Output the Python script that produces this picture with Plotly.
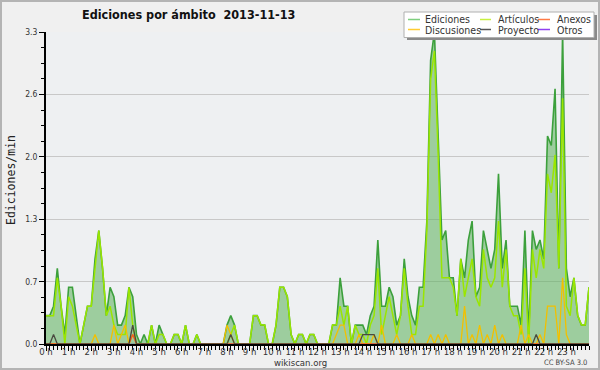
import plotly.graph_objects as go

# ---- data (edits per minute, 10-minute bins, 2013-11-13) ----
minutes = list(range(0, 1441, 10))

ediciones = [
    0.3, 0.3, 0.4, 0.8, 0.4, 0.1, 0.6, 0.6, 0.3, 0.0,
    0.2, 0.4, 0.4, 0.9, 1.2, 0.8, 0.3, 0.6, 0.5, 0.2,
    0.2, 0.3, 0.6, 0.5, 0.1, 0.0, 0.1, 0.0, 0.2, 0.0,
    0.2, 0.1, 0.0, 0.0, 0.1, 0.1, 0.0, 0.2, 0.0, 0.0,
    0.1, 0.0, 0.0, 0.0, 0.0, 0.0, 0.0, 0.0, 0.2, 0.3,
    0.2, 0.0, 0.0, 0.0, 0.0, 0.3, 0.3, 0.2, 0.2, 0.0,
    0.0, 0.2, 0.6, 0.6, 0.5, 0.1, 0.0, 0.1, 0.1, 0.0,
    0.1, 0.1, 0.0, 0.0, 0.0, 0.0, 0.2, 0.2, 0.7, 0.4,
    0.4, 0.0, 0.2, 0.2, 0.2, 0.1, 0.3, 0.4, 1.1, 0.4,
    0.4, 0.6, 0.5, 0.2, 0.3, 0.9, 0.5, 0.3, 0.2, 0.6,
    0.6, 1.3, 3.0, 3.3, 2.2, 1.1, 1.2, 0.7, 0.7, 0.3,
    0.9, 0.7, 1.1, 1.3, 0.5, 0.6, 1.2, 1.0, 0.8, 1.0,
    1.8, 0.8, 1.1, 0.4, 0.4, 0.4, 0.2, 1.2, 0.1, 1.2,
    1.0, 1.1, 0.9, 2.2, 2.1, 2.7, 0.8, 3.3, 0.8, 0.5,
    0.7, 0.3, 0.2, 0.2, 0.6,
]

articulos = [
    0.3, 0.3, 0.3, 0.7, 0.4, 0.0, 0.5, 0.4, 0.2, 0.0,
    0.2, 0.4, 0.4, 0.8, 1.2, 0.8, 0.3, 0.4, 0.2, 0.1,
    0.1, 0.1, 0.6, 0.2, 0.0, 0.0, 0.0, 0.0, 0.2, 0.0,
    0.1, 0.1, 0.0, 0.0, 0.1, 0.1, 0.0, 0.2, 0.0, 0.0,
    0.1, 0.0, 0.0, 0.0, 0.0, 0.0, 0.0, 0.0, 0.0, 0.1,
    0.2, 0.0, 0.0, 0.0, 0.0, 0.3, 0.3, 0.2, 0.2, 0.0,
    0.0, 0.2, 0.6, 0.6, 0.5, 0.1, 0.0, 0.1, 0.1, 0.0,
    0.1, 0.1, 0.0, 0.0, 0.0, 0.0, 0.2, 0.2, 0.4, 0.2,
    0.4, 0.0, 0.2, 0.1, 0.1, 0.0, 0.2, 0.3, 0.8, 0.1,
    0.3, 0.5, 0.3, 0.1, 0.3, 0.8, 0.4, 0.1, 0.1, 0.4,
    0.4, 1.2, 2.8, 3.1, 2.0, 0.7, 0.7, 0.7, 0.6, 0.3,
    0.9, 0.5, 0.7, 0.9, 0.5, 0.4, 1.0, 0.7, 0.6, 0.7,
    1.3, 0.6, 1.0, 0.4, 0.3, 0.3, 0.1, 0.8, 0.0, 1.0,
    0.7, 1.0, 0.8, 1.8, 1.6, 2.0, 0.8, 2.6, 0.4, 0.3,
    0.7, 0.3, 0.2, 0.2, 0.6,
]

discusiones = [
    0.0, 0.0, 0.0, 0.0, 0.0, 0.0, 0.0, 0.0, 0.0, 0.0,
    0.0, 0.0, 0.0, 0.1, 0.0, 0.0, 0.0, 0.0, 0.2, 0.0,
    0.1, 0.2, 0.0, 0.1, 0.0, 0.0, 0.0, 0.0, 0.0, 0.0,
    0.0, 0.0, 0.0, 0.0, 0.0, 0.0, 0.0, 0.0, 0.0, 0.0,
    0.0, 0.0, 0.0, 0.0, 0.0, 0.0, 0.0, 0.0, 0.2, 0.1,
    0.0, 0.0, 0.0, 0.0, 0.0, 0.0, 0.0, 0.0, 0.0, 0.0,
    0.0, 0.0, 0.0, 0.0, 0.0, 0.0, 0.0, 0.0, 0.0, 0.0,
    0.0, 0.0, 0.0, 0.0, 0.0, 0.0, 0.0, 0.1, 0.2, 0.2,
    0.0, 0.0, 0.0, 0.1, 0.0, 0.0, 0.0, 0.1, 0.0, 0.2,
    0.0, 0.0, 0.0, 0.1, 0.0, 0.0, 0.0, 0.1, 0.0, 0.0,
    0.0, 0.0, 0.1, 0.0, 0.1, 0.0, 0.1, 0.0, 0.0, 0.0,
    0.0, 0.4, 0.0, 0.1, 0.0, 0.2, 0.0, 0.1, 0.0, 0.2,
    0.0, 0.1, 0.0, 0.0, 0.0, 0.0, 0.2, 0.0, 0.1, 0.0,
    0.0, 0.1, 0.0, 0.4, 0.4, 0.4, 0.0, 0.7, 0.1, 0.0,
    0.0, 0.0, 0.0, 0.0, 0.0,
]

proyecto = [0.0] * 145
for idx, val in [(2, 0.1), (23, 0.2), (49, 0.1), (84, 0.1), (85, 0.1),
                 (86, 0.1), (87, 0.1), (130, 0.1)]:
    proyecto[idx] = val

anexos = [0.0] * 145
anexos[23] = 0.1

otros = [0.0] * 145

hour_ticks = list(range(24))
hour_labels = [f"{h} h" for h in hour_ticks]
y_ticks = [0, 0.66, 1.32, 1.98, 2.64, 3.3]
y_labels = ["0.0", "0.7", "1.3", "2.0", "2.6", "3.3"]

legend_names = ["Ediciones", "Artículos", "Anexos", "Discusiones", "Proyecto", "Otros"]
legend_colors = ["#7fcf7f", "#c8f040", "#ff7a45", "#ffcc33", "#555555", "#9040f0"]

# ---- figure ----
W, H = 600, 370
L, R, T, B = 46, 11, 32, 26
PW, PH = W - L - R, H - T - B

def px(xp):
    return (xp - L) / PW

def py(yp):
    return (H - B - yp) / PH

hours = [m / 60 for m in minutes]
FONT = "DejaVu Sans Condensed, DejaVu Sans, sans-serif"

fig = go.Figure()
fig.add_trace(go.Scatter(x=hours, y=otros, mode="lines", name="Otros",
                         line=dict(color="#9040f0", width=1.2), showlegend=False))
fig.add_trace(go.Scatter(x=hours, y=ediciones, mode="lines", name="Ediciones",
                         fill="tozeroy", fillcolor="rgba(95,178,95,0.57)",
                         line=dict(color="#3ca03c", width=1.6), showlegend=False))
fig.add_trace(go.Scatter(x=hours, y=articulos, mode="lines", name="Artículos",
                         line=dict(color="#9ae600", width=1.5), showlegend=False))
fig.add_trace(go.Scatter(x=hours, y=discusiones, mode="lines", name="Discusiones",
                         line=dict(color="#f2c000", width=1.3), showlegend=False))
fig.add_trace(go.Scatter(x=hours, y=anexos, mode="lines", name="Anexos",
                         line=dict(color="#f05a28", width=1.3), showlegend=False))
fig.add_trace(go.Scatter(x=hours, y=proyecto, mode="lines", name="Proyecto",
                         line=dict(color="#4a4a40", width=1.3), showlegend=False))

shapes = []
# outer frame
shapes.append(dict(type="rect", xref="paper", yref="paper",
                   x0=px(1), x1=px(599), y0=py(369), y1=py(1),
                   line=dict(color="#b4b4b4", width=2), fillcolor="rgba(0,0,0,0)", layer="above"))
# legend shadow + box
shapes.append(dict(type="rect", xref="paper", yref="paper",
                   x0=px(407), x1=px(597), y0=py(40), y1=py(15),
                   line=dict(width=0), fillcolor="#8a8a8a", layer="above"))
shapes.append(dict(type="rect", xref="paper", yref="paper",
                   x0=px(404), x1=px(594), y0=py(37.5), y1=py(12),
                   line=dict(color="#b0b0b0", width=1), fillcolor="#ffffff", layer="above"))

annotations = []
col_line = [(408, 420), (480, 491), (538, 550)]
col_text = [423, 496, 555]
row_y = [19.5, 29.5]
for k, (name, color) in enumerate(zip(legend_names, legend_colors)):
    r, c = divmod(k, 3)
    shapes.append(dict(type="line", xref="paper", yref="paper",
                       x0=px(col_line[c][0]), x1=px(col_line[c][1]),
                       y0=py(row_y[r]), y1=py(row_y[r]),
                       line=dict(color=color, width=1.5), layer="above"))
    annotations.append(dict(text=name, xref="paper", yref="paper",
                            x=px(col_text[c]), y=py(row_y[r]), xanchor="left", yanchor="middle",
                            showarrow=False, font=dict(family=FONT, size=10.5, color="#333333")))

annotations += [
    dict(text="Ediciones por ámbito\u00a0\u00a02013-11-13", xref="paper", yref="paper",
         x=px(188), y=py(15), xanchor="center", yanchor="middle", showarrow=False,
         font=dict(family="DejaVu Sans Condensed, DejaVu Sans", size=12.5, color="#111111", weight="bold")),
    dict(text="Ediciones/min", xref="paper", yref="paper", x=px(11), y=py(180),
         textangle=-90, xanchor="center", yanchor="middle", showarrow=False,
         font=dict(family="DejaVu Sans Mono", size=11.5, color="#222222")),
    dict(text="wikiscan.org", xref="paper", yref="paper", x=px(300), y=py(362),
         xanchor="center", yanchor="middle", showarrow=False,
         font=dict(family=FONT, size=9.5, color="#333333")),
    dict(text="CC BY-SA 3.0", xref="paper", yref="paper", x=px(589), y=py(362),
         xanchor="right", yanchor="middle", showarrow=False,
         font=dict(family=FONT, size=7.5, color="#444444")),
]

fig.update_layout(
    width=W, height=H,
    margin=dict(l=L, r=R, t=T, b=B),
    paper_bgcolor="#f0f0f0",
    plot_bgcolor="#eef0f2",
    showlegend=False,
    shapes=shapes,
    annotations=annotations,
    font=dict(family=FONT, size=9, color="#333333"),
)
fig.update_xaxes(
    range=[0, 24], tickvals=hour_ticks, ticktext=hour_labels,
    showgrid=False, zeroline=False, showline=True, linecolor="#000000", linewidth=2,
    ticks="outside", ticklen=5, tickwidth=1, tickcolor="#000000",
    ticklabelstandoff=-7,
    minor=dict(dtick=1 / 6, ticks="outside", ticklen=4, tickwidth=1, tickcolor="#000000", showgrid=False),
    tickfont=dict(family=FONT, size=9.5, color="#333333"),
)
fig.update_yaxes(
    range=[0, 3.3], tickvals=y_ticks, ticktext=y_labels,
    showgrid=True, gridcolor="#c8c8c8", gridwidth=1, zeroline=False,
    showline=True, linecolor="#000000", linewidth=2,
    ticks="outside", ticklen=5, tickwidth=1, tickcolor="#000000",
    minor=dict(dtick=0.165, ticks="outside", ticklen=3, tickwidth=1, tickcolor="#000000", showgrid=False),
    tickfont=dict(family=FONT, size=8.5, color="#333333"),
)

fig.write_html("out.html", config={"displayModeBar": False},
               post_script="document.body.style.margin='0';document.body.style.padding='0';")
